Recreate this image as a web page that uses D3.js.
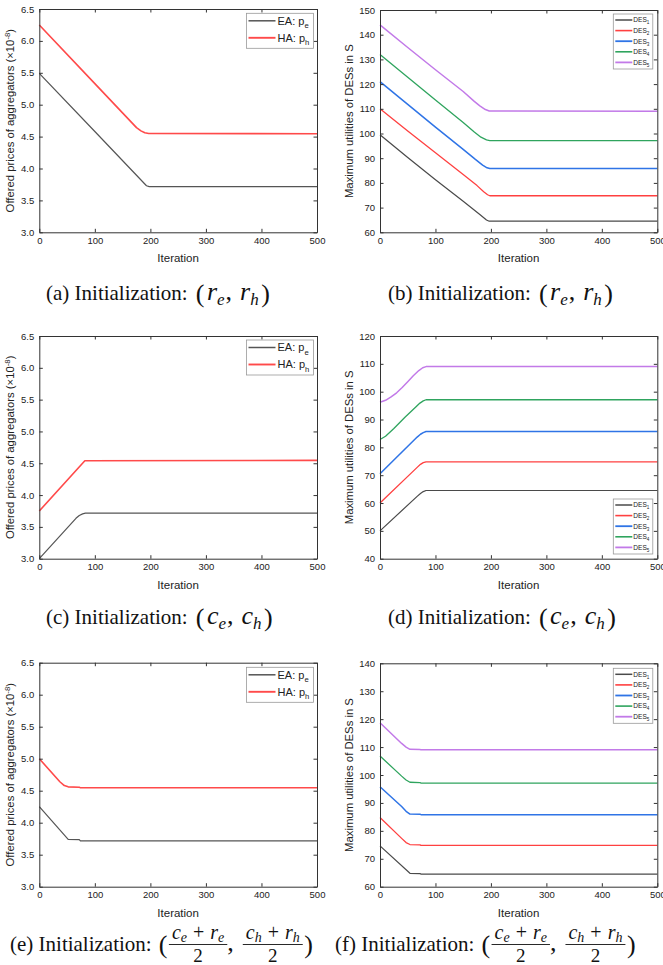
<!DOCTYPE html>
<html><head><meta charset="utf-8">
<script src="https://cdn.jsdelivr.net/npm/d3@7"></script>
<style>body{margin:0;background:#fff} svg{display:block} text{white-space:pre}</style>
</head><body>
<svg id="c" width="663" height="965"></svg>
<script>
// ---------- data ----------
const iterTicks = [0, 100, 200, 300, 400, 500];
const priceTicks = [3.0, 3.5, 4.0, 4.5, 5.0, 5.5, 6.0, 6.5];
const utilTicksB = [60, 70, 80, 90, 100, 110, 120, 130, 140, 150];
const utilTicksD = [40, 50, 60, 70, 80, 90, 100, 110, 120];
const utilTicksF = [60, 70, 80, 90, 100, 110, 120, 130, 140];
const priceNames = ["EA: p", "HA: p"];
const priceSubs = ["e", "h"];
const desNames = ["DES1", "DES2", "DES3", "DES4", "DES5"];

// (a) init (r_e, r_h)
const aEA = [[0,5.49],[100,4.58],[193,3.73],[198,3.715],[500,3.715]];
const aHA = [[0,6.25],[100,5.33],[175,4.64],[183,4.59],[190,4.56],[197,4.548],[500,4.545]];
// (b)
const bDES1 = [[0,99.5],[50,90.3],[100,81.3],[150,72.6],[180,67.2],[192,65],[197,64.5],[500,64.5]];
const bDES2 = [[0,110],[50,101],[100,92.2],[150,83.4],[175,78.9],[187,76.4],[194,75.2],[198,74.8],[500,74.8]];
const bDES3 = [[0,121],[50,111.8],[100,102.6],[150,93.6],[172,89.5],[185,87.2],[193,86.1],[198,85.8],[500,85.8]];
const bDES4 = [[0,132],[50,122.8],[100,113.6],[150,104.5],[170,100.6],[182,98.5],[192,97.4],[198,97.1],[500,97.1]];
const bDES5 = [[0,144],[50,134.8],[100,125.8],[150,117],[170,113],[180,111.2],[190,109.7],[197,109.1],[500,109]];
// (c) init (c_e, c_h)
const cEA = [[0,3.0],[66,3.635],[72,3.68],[78,3.705],[83,3.715],[500,3.715]];
const cHA = [[0,3.75],[82,4.54],[500,4.545]];
// (d)
const dDES1 = [[0,50],[67,62.4],[73,63.4],[78,64.1],[83,64.5],[500,64.5]];
const dDES2 = [[0,60],[67,72.8],[73,73.9],[78,74.5],[83,74.8],[500,74.8]];
const dDES3 = [[0,70.5],[67,83.7],[73,84.7],[78,85.3],[83,85.7],[500,85.7]];
const dDES4 = [[0,82.8],[10,84],[25,86.8],[45,90.8],[65,94.6],[72,95.9],[78,96.7],[83,97.1],[500,97.1]];
const dDES5 = [[0,96.2],[10,96.9],[20,98.1],[30,99.6],[40,101.5],[50,103.6],[60,105.7],[70,107.6],[77,108.6],[83,109],[500,109]];
// (e) init ((c_e+r_e)/2, (c_h+r_h)/2)
const eEA = [[0,4.25],[52,3.74],[72,3.735],[74,3.715],[500,3.715]];
const eHA = [[0,5.0],[37,4.64],[45,4.58],[52,4.56],[72,4.555],[74,4.545],[500,4.545]];
// (f)
const fDES1 = [[0,74.6],[54,64.8],[72,64.7],[74,64.5],[500,64.5]];
const fDES2 = [[0,84.8],[39,77.3],[47,75.8],[54,75.1],[72,75],[74,74.8],[500,74.8]];
const fDES3 = [[0,95.8],[39,88.7],[47,87],[54,86],[72,85.95],[74,85.8],[500,85.8]];
const fDES4 = [[0,106.8],[39,99.6],[47,98.2],[54,97.4],[72,97.3],[74,97.1],[500,97.1]];
const fDES5 = [[0,118.7],[39,111.3],[47,110],[54,109.2],[72,109.15],[74,109],[500,109]];

// ---------- styles ----------
const SANS = "'Liberation Sans', Arial, sans-serif";
const SERIF = "'Liberation Serif', 'Times New Roman', 'DejaVu Serif', serif";
const priceColors = ["#555555", "#ff4a4a"];
const priceWidths = [1.2, 1.6];
const desColors = ["#4a4a4a", "#ff4040", "#2f74e6", "#2fa45e", "#c27ae8"];
const desWidths = [1.2, 1.3, 1.5, 1.3, 1.5];

const svg = d3.select("#c");

function drawPanel(p) {
  const g = svg.append("g");
  const x = d3.scaleLinear().domain([0, 500]).range([p.left, p.right]);
  const y = d3.scaleLinear().domain([p.yTicks[0], p.yTicks[p.yTicks.length - 1]]).range([p.bottom, p.top]);
  const line = d3.line().x(d => x(d[0])).y(d => y(d[1])).curve(d3.curveLinear);

  p.series.forEach(s => {
    g.append("path").attr("d", line(s.data)).attr("fill", "none")
      .attr("stroke", s.color).attr("stroke-width", s.width).attr("stroke-linejoin", "round");
  });

  const styleAxis = (sel, labels) => {
    sel.select(".domain").attr("stroke", "#333").attr("stroke-width", 1);
    sel.selectAll(".tick line").attr("stroke", "#333").attr("stroke-width", 1);
    sel.selectAll(".tick text").attr("font-family", SANS).attr("font-size", 9.5).attr("fill", "#222");
    if (!labels) sel.selectAll(".tick text").remove();
  };
  g.append("g").attr("transform", `translate(0,${p.bottom})`)
    .call(d3.axisBottom(x).tickValues(iterTicks).tickFormat(d3.format("d")).tickSizeInner(-3.5).tickSizeOuter(0).tickPadding(5))
    .call(s => styleAxis(s, true));
  g.append("g").attr("transform", `translate(0,${p.top})`)
    .call(d3.axisTop(x).tickValues(iterTicks).tickSizeInner(-3.5).tickSizeOuter(0))
    .call(s => styleAxis(s, false));
  g.append("g").attr("transform", `translate(${p.left},0)`)
    .call(d3.axisLeft(y).tickValues(p.yTicks).tickFormat(p.fmt).tickSizeInner(-3.5).tickSizeOuter(0).tickPadding(5))
    .call(s => styleAxis(s, true));
  g.append("g").attr("transform", `translate(${p.right},0)`)
    .call(d3.axisRight(y).tickValues(p.yTicks).tickSizeInner(-3.5).tickSizeOuter(0))
    .call(s => styleAxis(s, false));

  // x title
  g.append("text").attr("x", (p.left + p.right) / 2).attr("y", p.bottom + 30)
    .attr("text-anchor", "middle").attr("font-family", SANS).attr("font-size", 11.5).attr("fill", "#222")
    .text("Iteration");
  // y title
  const yt = g.append("text").attr("transform", `translate(${p.ytx},${(p.top + p.bottom) / 2}) rotate(-90)`)
    .attr("text-anchor", "middle").attr("font-family", SANS).attr("font-size", 11.3).attr("fill", "#222");
  p.yTitle.forEach(part => {
    const ts = yt.append("tspan").text(part.t);
    if (part.sup) ts.attr("font-size", 7.8).attr("dy", -4);
    if (part.after) ts.attr("dy", 4);
  });

  // legend
  const L = p.legend;
  g.append("rect").attr("x", L.x).attr("y", L.y).attr("width", L.w).attr("height", L.h)
    .attr("fill", "#fff").attr("stroke", "#999").attr("stroke-width", 0.8);
  L.items.forEach((it, i) => {
    const yy = L.y + L.first + i * L.step;
    g.append("line").attr("x1", L.x + L.l0).attr("x2", L.x + L.l1).attr("y1", yy).attr("y2", yy)
      .attr("stroke", it.color).attr("stroke-width", it.width + 0.3);
    const t = g.append("text").attr("x", L.x + L.tx).attr("y", yy + L.fs * 0.36)
      .attr("font-family", SANS).attr("font-size", L.fs).attr("fill", "#222");
    t.append("tspan").text(it.name);
    t.append("tspan").text(it.sub).attr("font-size", L.fs * 0.7).attr("dy", L.fs * 0.3);
  });
}

function priceSeries(ea, ha) {
  return [ea, ha].map((d, i) => ({ data: d, color: priceColors[i], width: priceWidths[i] }));
}
function desSeries(arr) {
  return arr.map((d, i) => ({ data: d, color: desColors[i], width: desWidths[i] }));
}
function priceLegend(x, y) {
  return { x: x, y: y, w: 67, h: 35, first: 7.5, step: 17, l0: 2, l1: 29, tx: 31, fs: 11,
    items: priceNames.map((n, i) => ({ name: n, sub: priceSubs[i], color: priceColors[i], width: priceWidths[i] })) };
}
function desLegend(x, y) {
  return { x: x, y: y, w: 39.5, h: 55, first: 6, step: 10.6, l0: 2, l1: 19, tx: 20, fs: 6.6,
    items: desNames.map((n, i) => ({ name: n.slice(0, 3), sub: n.slice(3), color: desColors[i], width: desWidths[i] })) };
}
const priceTitle = [{ t: "Offered prices of aggregators (×10" }, { t: "-8", sup: true }, { t: ")", after: true }];
const utilTitle = [{ t: "Maximum utilities of DESs in S" }];
const f1 = d3.format(".1f"), f0 = d3.format("d");

drawPanel({ left: 39.3, right: 317, top: 9, bottom: 232.3, yTicks: priceTicks, fmt: f1, ytx: 14,
  series: priceSeries(aEA, aHA), yTitle: priceTitle, legend: priceLegend(246.5, 13.3) });
drawPanel({ left: 380, right: 657.3, top: 10, bottom: 232.3, yTicks: utilTicksB, fmt: f0, ytx: 353,
  series: desSeries([bDES1, bDES2, bDES3, bDES4, bDES5]), yTitle: utilTitle, legend: desLegend(613.3, 14) });
drawPanel({ left: 39.3, right: 317, top: 336, bottom: 558.7, yTicks: priceTicks, fmt: f1, ytx: 14,
  series: priceSeries(cEA, cHA), yTitle: priceTitle, legend: priceLegend(246.5, 340) });
drawPanel({ left: 380, right: 657.3, top: 336, bottom: 558.7, yTicks: utilTicksD, fmt: f0, ytx: 353,
  series: desSeries([dDES1, dDES2, dDES3, dDES4, dDES5]), yTitle: utilTitle, legend: desLegend(613.3, 499) });
drawPanel({ left: 39.3, right: 317, top: 662.7, bottom: 886.7, yTicks: priceTicks, fmt: f1, ytx: 14,
  series: priceSeries(eEA, eHA), yTitle: priceTitle, legend: priceLegend(246.5, 667.3) });
drawPanel({ left: 380, right: 657.3, top: 663.3, bottom: 886.7, yTicks: utilTicksF, fmt: f0, ytx: 353,
  series: desSeries([fDES1, fDES2, fDES3, fDES4, fDES5]), yTitle: utilTitle, legend: desLegend(613.3, 668.3) });

// ---------- captions ----------
const CS = 21;      // caption text size
const MS = 26;      // math size
const SS = 17;      // math subscript size
function caption(x0, yb, pieces) {
  const g = svg.append("g");
  let cx = x0;
  const put = (t, x, y, size, italic) => {
    const el = g.append("text").attr("x", x).attr("y", y).attr("font-family", SERIF)
      .attr("font-size", size).attr("font-style", italic ? "italic" : "normal").attr("fill", "#111").text(t);
    return el.node().getComputedTextLength();
  };
  pieces.forEach(pc => {
    if (pc.gap) { cx += pc.gap; return; }
    if (pc.frac) {
      let nx = cx + 3;
      pc.frac.forEach(n => {
        if (n.gap) { nx += n.gap; return; }
        nx += put(n.t, nx, yb - 12 + (n.sub ? 3 : 0), n.sub ? 14 : 20, n.it);
      });
      const width = nx - cx + 3;
      g.append("line").attr("x1", cx).attr("x2", cx + width).attr("y1", yb - 6.5).attr("y2", yb - 6.5)
        .attr("stroke", "#111").attr("stroke-width", 0.9);
      g.append("text").attr("x", cx + width / 2).attr("y", yb + 11).attr("text-anchor", "middle")
        .attr("font-family", SERIF).attr("font-size", 19).attr("fill", "#111").text("2");
      cx += width;
      return;
    }
    const size = pc.sub ? SS : (pc.m ? MS : CS);
    cx += put(pc.t, cx, yb + (pc.sub ? 4.5 : 0) + (pc.m && pc.t.match(/[()]/) ? 1.5 : 0), size, pc.it);
  });
}
const simpleMath = (v, s1, s2) => [{ t: "(", m: true }, { gap: 2.5 }, { t: v, it: true, m: true }, { t: s1, it: true, sub: true },
  { gap: 1 }, { t: ",", m: true }, { gap: 8 },
  { t: v, it: true, m: true }, { t: s2, it: true, sub: true }, { gap: 2.5 }, { t: ")", m: true }];
const fracNum = (s) => [{ t: "c", it: true }, { t: s, it: true, sub: true }, { gap: 6 }, { t: "+" }, { gap: 6 },
  { t: "r", it: true }, { t: s, it: true, sub: true }];

caption(46, 300, [{ t: "(a) Initialization:" }, { gap: 8 }].concat(simpleMath("r", "e", "h")));
caption(388, 300, [{ t: "(b) Initialization:" }, { gap: 8 }].concat(simpleMath("r", "e", "h")));
caption(46, 624, [{ t: "(c) Initialization:" }, { gap: 8 }].concat(simpleMath("c", "e", "h")));
caption(388, 624, [{ t: "(d) Initialization:" }, { gap: 8 }].concat(simpleMath("c", "e", "h")));
caption(10, 951, [{ t: "(e) Initialization:" }, { gap: 7 }, { t: "(", m: true }, { gap: 1.5 }, { frac: fracNum("e") },
  { t: ",", m: true }, { gap: 9 }, { frac: fracNum("h") }, { gap: 1.5 }, { t: ")", m: true }]);
caption(335, 951, [{ t: "(f) Initialization:" }, { gap: 7 }, { t: "(", m: true }, { gap: 1.5 }, { frac: fracNum("e") },
  { t: ",", m: true }, { gap: 9 }, { frac: fracNum("h") }, { gap: 1.5 }, { t: ")", m: true }]);
</script>
</body></html>
